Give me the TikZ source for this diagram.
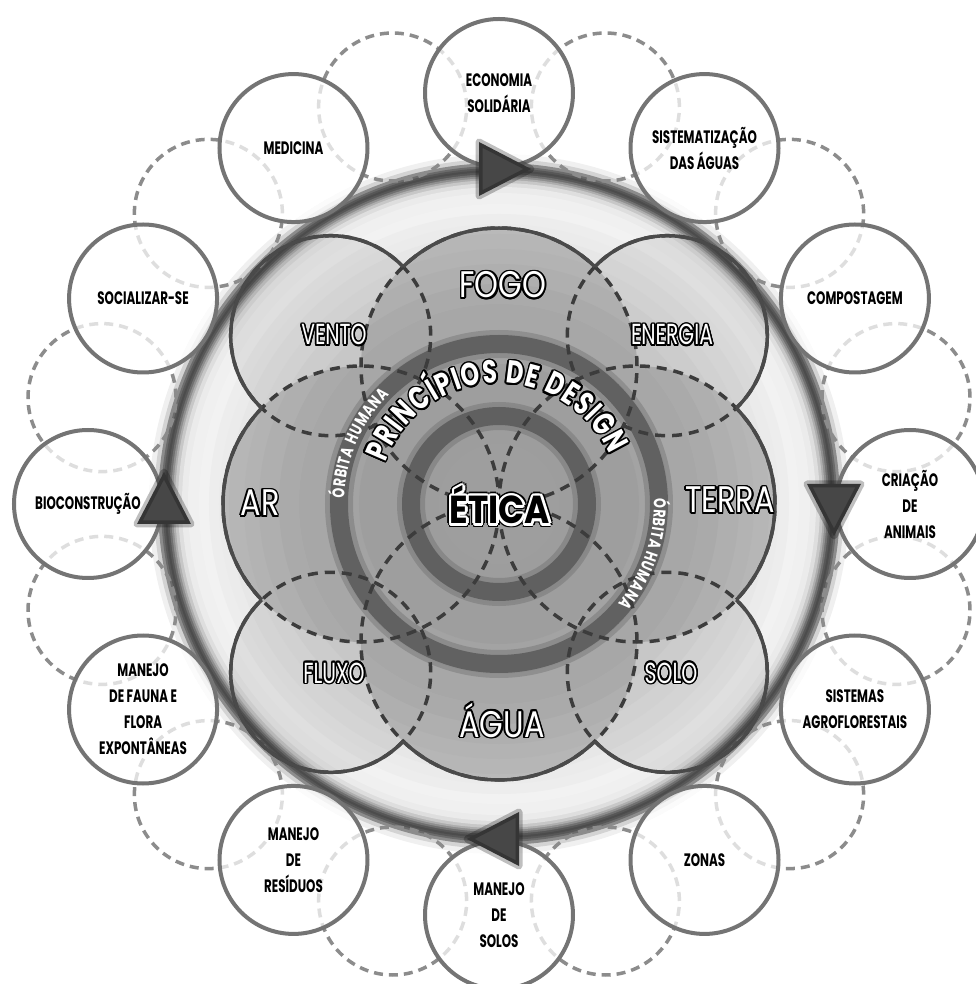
\documentclass[tikz,border=0pt]{standalone}
\usepackage{fontspec}
\usepackage[copies]{contour}
\usetikzlibrary{decorations.text}

\newfontfamily\themefont[FakeStretch=0.66]{Poppins}
\newfontfamily\elemfont[FakeStretch=0.82]{Poppins}
\newfontfamily\eticafont[FakeStretch=0.88]{Poppins}
\newfontfamily\subfont[FakeStretch=0.70]{Poppins}
\newfontfamily\arcfont[FakeStretch=0.74]{Poppins}

\definecolor{themeline}{HTML}{747474}
\definecolor{dashline}{HTML}{8C8C8C}
\definecolor{petalline}{HTML}{4A4A4A}
\definecolor{dashdark}{HTML}{3C3C3C}
\definecolor{orbit}{HTML}{5A5A5A}

\contourlength{1.6pt}
\newcommand\outlined[1]{\contour{black}{#1}}

\tikzset{
  theme/.style={circle, draw=themeline, line width=4pt, fill=white,
    fill opacity=0.72, text opacity=1, minimum size=148pt, inner sep=0pt,
    align=center, font=\themefont\bfseries\fontsize{18}{26}\selectfont},
  ringdash/.style={draw=dashline, line width=3.5pt, dash pattern=on 9pt off 6pt},
  flowarrow/.style={fill=black!72, draw=black, draw opacity=0.25,
    line width=7pt, line join=round},
  petal/.style={draw=petalline, line width=3.5pt},
  petaldash/.style={draw=dashdark, line width=3.5pt, dash pattern=on 10pt off 7pt},
  element/.style={anchor=base, text=white, inner sep=0pt,
    font=\elemfont\fontsize{37}{37}\selectfont},
  subelement/.style={anchor=base, text=white, inner sep=0pt,
    font=\subfont\fontsize{29}{29}\selectfont},
  etica/.style={anchor=base, inner sep=0pt,
    font=\eticafont\bfseries\fontsize{39}{39}\selectfont},
  orbittext/.style={text=white, font=\arcfont\bfseries\fontsize{17}{17}\selectfont},
}

\begin{document}
\begin{tikzpicture}[x=1pt, y=1pt]
  \useasboundingbox (-499,-480) rectangle (476,504);

  % disc, outside in
  \fill[black, fill opacity=0.06] (0,0) circle[radius=350];
  \fill[black, fill opacity=0.12] (0,0) circle[radius=345];
  \foreach \r/\k in {341/45, 338/58, 336/66, 334/70, 332/66, 330/56, 328/44,
      326/32, 324/22, 321/13, 317/8, 311/6, 300/5, 290/7, 280/8, 270/9.5,
      255/11, 240/13, 220/15, 200/17, 170/19, 140/21, 100/22, 60/21}
    \fill[black!\k] (0,0) circle[radius=\r];

  % outer ring of themes
  \foreach \a in {75,45,...,-255}
    \draw[ringdash] (\a:411) circle[radius=74];
  \foreach \a/\txt [count=\i] in {90/{ECONOMIA\\SOLIDÁRIA},
      60/{SISTEMATIZAÇÃO\\DAS ÁGUAS}, 30/COMPOSTAGEM, 0/{CRIAÇÃO\\DE\\ANIMAIS},
      -30/{SISTEMAS\\AGROFLORESTAIS}, -60/ZONAS, -90/{MANEJO\\DE\\SOLOS},
      -120/{MANEJO\\DE\\RESÍDUOS}, -150/{MANEJO\\DE FAUNA E\\FLORA\\EXPONTÂNEAS},
      180/BIOCONSTRUÇÃO, 150/SOCIALIZAR-SE, 120/MEDICINA}
    \node[theme] (theme\i) at (\a:411) {\txt};

  % flow arrows
  \foreach \a in {90,0,-90,180}
    \filldraw[flowarrow, rotate=\a-90] (-20,308) -- (-20,362) -- (32,335) -- cycle;

  % flower
  \fill[black, fill opacity=0.08]
    \foreach \a in {45,135,225,315} {(\a:238) circle[radius=100]}
    \foreach \a in {0,90,180,270} {(\a:138) circle[radius=138]};
  \fill[black, fill opacity=0.14]
    \foreach \a in {0,90,180,270} {(\a:138) circle[radius=138]};

  \foreach \r in {88,160} {
    \draw[orbit, line width=28pt, draw opacity=0.3] (0,0) circle[radius=\r];
    \draw[orbit, line width=18pt, draw opacity=0.85] (0,0) circle[radius=\r];
  }

  \foreach \a in {0,90,180,270}
    \draw[petaldash] (\a:138) circle[radius=138];
  \foreach \a in {45,135,225,315}
    \draw[petaldash] (\a:238) circle[radius=100];
  \foreach \a in {0,90,180,270}
    \draw[petal] (\a:138) ++(\a+44:138) arc[start angle=\a+44, end angle=\a-44, radius=138];
  \foreach \a in {45,135,225,315}
    \draw[petal] (\a:238) ++(\a+91.4:100) arc[start angle=\a+91.4, end angle=\a-91.4, radius=100];

  % labels
  \node[element] (fogo) at (4,206) {\outlined{FOGO}};
  \node[element] (terra) at (231,-9) {\outlined{TERRA}};
  \node[element] (agua) at (3,-233) {\outlined{ÁGUA}};
  \node[element] (ar) at (-239,-12) {\outlined{AR}};
  \node[subelement] (vento) at (-165,159) {\outlined{VENTO}};
  \node[subelement] (energia) at (173,159) {\outlined{ENERGIA}};
  \node[subelement] (fluxo) at (-165,-179) {\outlined{FLUXO}};
  \node[subelement] (solo) at (172,-179) {\outlined{SOLO}};

  \foreach \ang [count=\k] in {0,30,...,330}
    \node[etica, text=black, shift={(\ang:4)}] (eticab\k) at (1,-20) {ÉTICA};
  \foreach \ang [count=\k] in {0,30,...,330}
    \node[etica, text=white, shift={(\ang:2.4)}] (eticaw\k) at (1,-20) {ÉTICA};
  \node[etica, text=black] (etica) at (1,-20) {ÉTICA};

  \path[decorate, decoration={text effects along path, text={PRINCÍPIOS DE DESIGN},
      text effects/.cd, text along path, fit text to path, character command=\outlined,
      every character/.style={text=white, font=\arcfont\bfseries\fontsize{32}{32}\selectfont}}]
    (160:121) arc[start angle=160, end angle=24, radius=121];
  \path[decorate, decoration={text effects along path, text={ÓRBITA HUMANA},
      text effects/.cd, text along path, fit text to path,
      every character/.style={orbittext}}]
    (178:155) arc[start angle=178, end angle=135, radius=155];
  \path[decorate, decoration={text effects along path, text={ÓRBITA HUMANA},
      text effects/.cd, text along path, fit text to path,
      every character/.style={orbittext}}]
    (2:155) arc[start angle=2, end angle=-40, radius=155];
\end{tikzpicture}
\end{document}
